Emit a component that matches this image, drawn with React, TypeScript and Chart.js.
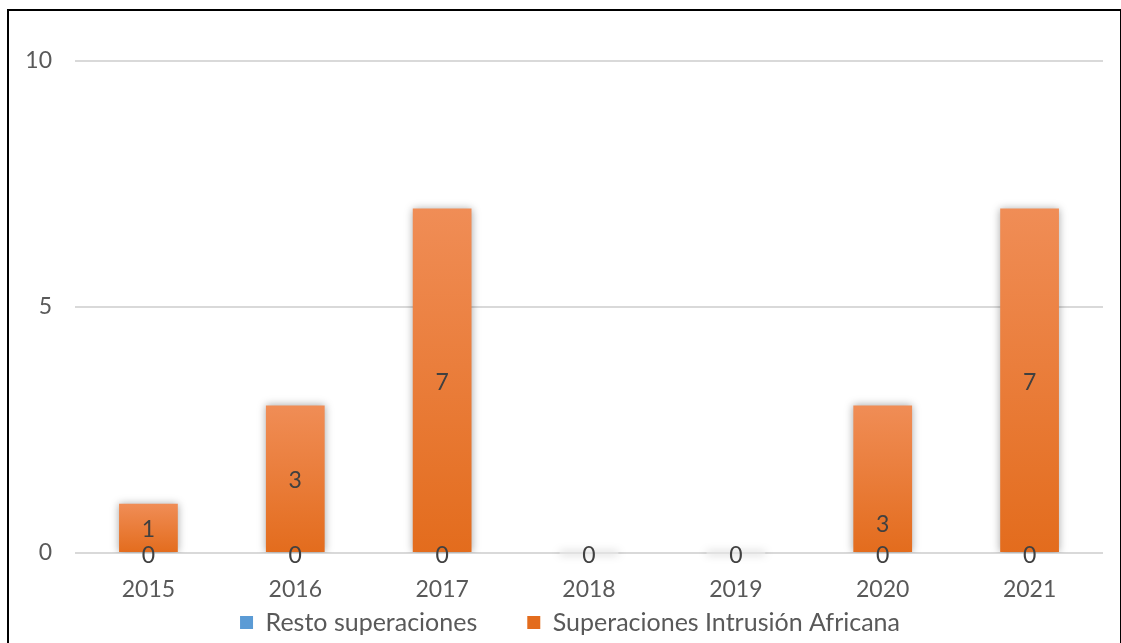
import React, { useEffect, useRef } from "react";
import { Chart, registerables } from "chart.js";

Chart.register(...registerables);

const categories = ["2015", "2016", "2017", "2018", "2019", "2020", "2021"];
const restoSuperaciones = [0, 0, 0, 0, 0, 0, 0];
const intrusionAfricana = [1, 3, 7, 0, 0, 3, 7];
const seriesNames = ["Resto superaciones", "Superaciones Intrusión Africana"];
const yTicks = [0, 5, 10];

const FONT = "Lato";
const TEXT = "#595959";
const LABEL = "#404040";

// label vertical nudges (style only)
const labelNudge = [
  [3, 3, 3, 3, 3, 3, 3],
  [2, 2, 2, 3, 3, 46, 2],
];

const barDecor = {
  id: "barDecor",
  afterLayout(chart: any) {
    const lg = chart.legend;
    if (lg) {
      lg.left = 37;
      lg.right = 1103;
      lg.width = lg.right - lg.left;
      lg.top = 560;
      lg.bottom = 642;
    }
  },
  beforeDatasetsDraw(chart: any) {
    const ctx = chart.ctx;
    ctx.save();
    ctx.shadowColor = "rgba(0,0,0,0.35)";
    ctx.shadowBlur = 8;
    ctx.shadowOffsetX = 0;
    ctx.shadowOffsetY = 0;
    const meta = chart.getDatasetMeta(1);
    meta.data.forEach((bar: any) => {
      const { x, y, base, width } = bar.getProps(["x", "y", "base", "width"], true);
      if (Math.abs(base - y) < 1) {
        ctx.fillStyle = "rgba(225,225,225,1)";
        ctx.fillRect(x - width / 2, base - 1, width, 2);
      }
    });
  },
  afterDatasetsDraw(chart: any) {
    const ctx = chart.ctx;
    ctx.restore();
    ctx.save();
    ctx.font = `23px ${FONT}`;
    ctx.fillStyle = LABEL;
    ctx.textAlign = "center";
    ctx.textBaseline = "middle";
    const drawn = new Set<string>();
    chart.data.datasets.forEach((ds: any, di: number) => {
      const meta = chart.getDatasetMeta(di);
      meta.data.forEach((bar: any, i: number) => {
        const { x, y, base } = bar.getProps(["x", "y", "base"], true);
        const cy = (y + base) / 2 + labelNudge[di][i];
        const key = `${Math.round(x)}_${Math.round(cy)}_${ds.data[i]}`;
        if (drawn.has(key)) return;
        drawn.add(key);
        ctx.fillText(String(ds.data[i]), x, cy);
      });
    });
    ctx.restore();
  },
};

export default function App() {
  const ref = useRef<HTMLCanvasElement>(null);
  useEffect(() => {
    if (!ref.current) return;
    const orangeGrad = (c: any) => {
      const chart = c.chart;
      const { chartArea, scales } = chart;
      if (!chartArea || c.type !== "data") return "#ED7D31";
      const i = c.dataIndex;
      const b = restoSuperaciones[i];
      const yTop = scales.y.getPixelForValue(b + intrusionAfricana[i]);
      const yBot = scales.y.getPixelForValue(b);
      if (yBot - yTop < 1) return "#ED7D31";
      const g = chart.ctx.createLinearGradient(0, yTop, 0, yBot);
      g.addColorStop(0, "#F08D56");
      g.addColorStop(1, "#E36C1D");
      return g;
    };
    const chart = new Chart(ref.current, {
      type: "bar",
      data: {
        labels: categories,
        datasets: [
          {
            label: seriesNames[0],
            data: restoSuperaciones,
            backgroundColor: "#5B9BD5",
            borderWidth: 0,
          },
          {
            label: seriesNames[1],
            data: intrusionAfricana,
            backgroundColor: orangeGrad,
            borderWidth: 0,
          },
        ],
      },
      options: {
        animation: false,
        responsive: false,
        maintainAspectRatio: false,
        layout: { padding: { left: 0, right: 18, top: 61, bottom: 0 } },
        datasets: { bar: { barPercentage: 0.4, categoryPercentage: 1 } },
        plugins: {
          legend: {
            position: "bottom",
            maxHeight: 1,
            labels: {
              font: { family: FONT, size: 25 },
              color: TEXT,
              boxWidth: 13,
              boxHeight: 13,
              padding: 50,
            },
          },
          tooltip: { enabled: false },
          title: { display: false },
        },
        scales: {
          x: {
            stacked: true,
            grid: { display: false, drawTicks: false },
            border: { display: false },
            ticks: { font: { family: FONT, size: 23 }, color: TEXT, padding: 23 },
            afterFit: (s: any) => {
              s.height = 89;
            },
          },
          y: {
            stacked: true,
            min: 0,
            max: 10,
            afterBuildTicks: (s: any) => {
              s.ticks = yTicks.map((v) => ({ value: v }));
            },
            grid: { color: "#D9D9D9", lineWidth: 2, drawTicks: false },
            border: { display: false },
            ticks: { font: { family: FONT, size: 23 }, color: TEXT, padding: 23 },
            afterFit: (s: any) => {
              s.width = 75;
            },
          },
        },
      },
      plugins: [barDecor],
    });
    return () => chart.destroy();
  }, []);
  return (
    <div style={{ position: "absolute", left: 0, top: 0, width: 1121, height: 643, background: "#fff", overflow: "hidden" }}>
      <canvas ref={ref} width={1121} height={643} style={{ position: "absolute", left: 0, top: 0 }} />
      <div
        style={{
          position: "absolute",
          left: 7,
          top: 9,
          width: 1111,
          height: 700,
          borderLeft: "2px solid #000",
          borderTop: "2px solid #000",
          borderRight: "2px solid #000",
          pointerEvents: "none",
        }}
      />
    </div>
  );
}
